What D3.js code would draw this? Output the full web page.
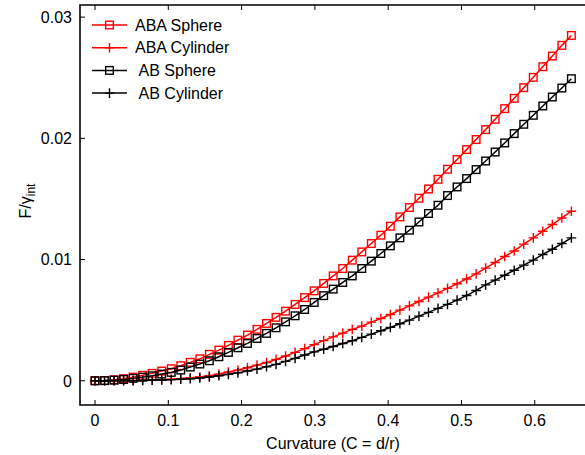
<!DOCTYPE html>
<html>
<head>
<meta charset="utf-8">
<script src="https://cdn.jsdelivr.net/npm/d3@7"></script>
<style>
    body { margin: 0; background: #fff; }
    svg { display: block; font-family: "Liberation Sans", Arial, sans-serif; }
</style>
</head>
<body>
<div id="chart"></div>
<script>
// curvature values (C = d/r)
const curvature = d3.range(51).map((i) => +(i * 0.013).toFixed(3));

const abaSphere = [
    0, 0.00002, 0.00008, 0.00017, 0.0003, 0.00045, 0.00061, 0.0008, 0.00099, 0.00124,
    0.00152, 0.00181, 0.00218, 0.00253, 0.00292, 0.00335, 0.00377, 0.00424, 0.00473, 0.00523,
    0.00574, 0.0063, 0.00686, 0.00742, 0.00803, 0.00865, 0.00926, 0.00995, 0.01063, 0.01132,
    0.01201, 0.01275, 0.01352, 0.01429, 0.01506, 0.01582, 0.01662, 0.01745, 0.01825, 0.01907,
    0.0199, 0.02072, 0.02157, 0.02245, 0.0233, 0.02418, 0.02503, 0.02591, 0.02679, 0.02767,
    0.02849
];
const abaCylinder = [
    0, 0, 0.00001, 0.00002, 0.00003, 0.00004, 0.00006, 0.00009, 0.00013, 0.00018,
    0.00024, 0.00031, 0.00041, 0.00055, 0.00072, 0.00088, 0.00107, 0.00129, 0.00151, 0.00176,
    0.00204, 0.00234, 0.00265, 0.00298, 0.00331, 0.00362, 0.00393, 0.00424, 0.00451, 0.00484,
    0.00514, 0.00547, 0.00583, 0.00618, 0.00654, 0.0069, 0.00725, 0.00762, 0.008, 0.0084,
    0.00882, 0.00929, 0.00976, 0.01025, 0.01071, 0.01127, 0.01179, 0.01234, 0.01289, 0.01343,
    0.01399
];
const abSphere = [
    0, 0.00001, 0.00005, 0.00011, 0.0002, 0.0003, 0.00041, 0.00055, 0.00069, 0.00088,
    0.00113, 0.00138, 0.00165, 0.00198, 0.00234, 0.00272, 0.00308, 0.00349, 0.00391, 0.00437,
    0.00486, 0.00536, 0.00588, 0.00646, 0.00702, 0.00756, 0.00811, 0.00865, 0.00926, 0.00987,
    0.0105, 0.01113, 0.01179, 0.01242, 0.0131, 0.0138, 0.01448, 0.01528, 0.01599, 0.01668,
    0.01742, 0.01813, 0.01887, 0.01962, 0.02039, 0.02116, 0.0219, 0.02267, 0.02341, 0.02415,
    0.02492
];
const abCylinder = [
    0, 0, 0, 0.00001, 0.00001, 0.00002, 0.00004, 0.00006, 0.00009, 0.00013,
    0.00017, 0.00023, 0.00031, 0.00041, 0.00053, 0.00065, 0.0008, 0.00096, 0.00115, 0.00135,
    0.0016, 0.00185, 0.00212, 0.00238, 0.0026, 0.00283, 0.00307, 0.0033, 0.00358, 0.00385,
    0.00412, 0.0044, 0.0047, 0.005, 0.00533, 0.00564, 0.00597, 0.0063, 0.00665, 0.00703,
    0.00745, 0.00791, 0.0083, 0.00871, 0.00912, 0.00954, 0.00995, 0.01042, 0.01085, 0.01132,
    0.01179
];

const seriesNames = ["ABA Sphere", "ABA Cylinder", " AB Sphere", " AB Cylinder"];
const seriesColors = ["#ff0000", "#ff0000", "#000000", "#000000"];
const seriesMarkers = ["square", "plus", "square", "plus"];
const seriesValues = [abaSphere, abaCylinder, abSphere, abCylinder];

const xTicks = [0, 0.1, 0.2, 0.3, 0.4, 0.5, 0.6];
const yTicks = [0, 0.01, 0.02, 0.03];

const width = 585, height = 455;
const box = { left: 80, right: 590, top: 5, bottom: 405 };

const x = d3.scaleLinear().domain([-0.0205, 0.6754]).range([box.left, box.right]);
const y = d3.scaleLinear().domain([-0.002, 0.031]).range([box.bottom, box.top]);

const svg = d3
    .select("#chart")
    .append("svg")
    .attr("width", width)
    .attr("height", height);

// series
const line = d3
    .line()
    .x((d) => x(d[0]))
    .y((d) => y(d[1]));

function drawMarker(g, type, cx, cy, color) {
    if (type === "square") {
        g.append("rect")
            .attr("x", cx - 3.8)
            .attr("y", cy - 3.8)
            .attr("width", 7.6)
            .attr("height", 7.6)
            .attr("fill", "none")
            .attr("stroke", color)
            .attr("stroke-width", 1.4);
    } else {
        g.append("path")
            .attr("d", `M${cx - 4.8},${cy}H${cx + 4.8}M${cx},${cy - 4.8}V${cy + 4.8}`)
            .attr("stroke", color)
            .attr("stroke-width", 1.4);
    }
}

seriesValues.forEach((vals, k) => {
    const pts = vals.map((v, i) => [curvature[i], v]);
    const g = svg.append("g");
    g.append("path")
        .datum(pts)
        .attr("d", line)
        .attr("fill", "none")
        .attr("stroke", seriesColors[k])
        .attr("stroke-width", 1.5);
    pts.forEach((p) => drawMarker(g, seriesMarkers[k], x(p[0]), y(p[1]), seriesColors[k]));
});

// frame + inward ticks
const axes = svg.append("g").attr("fill", "none").attr("stroke", "#000");
axes.append("path")
    .attr("d", `M${box.right},${box.top}H${box.left}V${box.bottom}H${box.right}`)
    .attr("stroke-width", 1.6);
xTicks.forEach((t) => {
    axes.append("path")
        .attr("d", `M${x(t)},${box.bottom}v-5M${x(t)},${box.top}v5`)
        .attr("stroke-width", 1);
});
yTicks.forEach((t) => {
    axes.append("path")
        .attr("d", `M${box.left},${y(t)}h5M${box.right},${y(t)}h-5`)
        .attr("stroke-width", 1);
});

// tick labels
svg.append("g")
    .selectAll("text")
    .data(xTicks)
    .join("text")
    .attr("x", (d) => x(d))
    .attr("y", 426)
    .attr("text-anchor", "middle")
    .attr("font-size", 16)
    .text((d) => (d === 0 ? "0" : d3.format(".1f")(d)));

svg.append("g")
    .selectAll("text")
    .data(yTicks)
    .join("text")
    .attr("x", 72)
    .attr("y", (d) => y(d))
    .attr("dy", "0.36em")
    .attr("text-anchor", "end")
    .attr("font-size", 16)
    .text((d) => (d === 0 ? "0" : d3.format(".2f")(d)));

// axis titles
svg.append("text")
    .attr("x", 333)
    .attr("y", 449)
    .attr("text-anchor", "middle")
    .attr("font-size", 16)
    .text("Curvature (C = d/r)");

const yLabel = svg.append("text")
    .attr("transform", "translate(31,201) rotate(-90)")
    .attr("text-anchor", "middle")
    .attr("font-size", 16);
yLabel.append("tspan").text("F/\u03b3");
yLabel.append("tspan").attr("font-size", 12).attr("dy", 4).text("int");

// legend
const legend = svg.append("g");
seriesNames.forEach((name, k) => {
    const ly = 25 + k * 22.7;
    legend.append("path")
        .attr("d", `M92,${ly}H127`)
        .attr("stroke", seriesColors[k])
        .attr("stroke-width", 1.5);
    drawMarker(legend, seriesMarkers[k], 109.5, ly, seriesColors[k]);
    legend.append("text")
        .attr("x", 135)
        .attr("y", ly)
        .attr("dy", "0.36em")
        .attr("font-size", 16)
        .style("white-space", "pre")
        .text(name);
});
</script>
</body>
</html>
